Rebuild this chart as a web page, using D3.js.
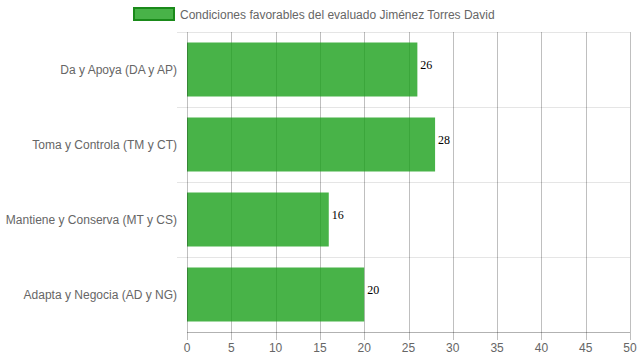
<!DOCTYPE html>
<html><head><meta charset="utf-8">
<script src="https://cdn.jsdelivr.net/npm/d3@7"></script>
<style>body{margin:0;background:#fff}svg{display:block}</style>
</head><body>
<svg id="c" width="639" height="360"></svg>
<script>
const categories = ["Da y Apoya (DA y AP)","Toma y Controla (TM y CT)","Mantiene y Conserva (MT y CS)","Adapta y Negocia (AD y NG)"];
const values = [26, 28, 16, 20];
const xTicks = [0,5,10,15,20,25,30,35,40,45,50];
const seriesName = "Condiciones favorables del evaluado Jiménez Torres David";

const svg = d3.select("#c");
const m = {l:187, r:630, t:32, b:332};
const x = d3.scaleLinear().domain([0,50]).range([m.l, m.r]);
const yb = d3.scaleBand().domain(categories).range([m.t, m.b]);
const font = "'Liberation Sans', Arial, sans-serif";

// horizontal grid lines (category boundaries)
const bounds = categories.map(c => yb(c)).concat([m.b]);
svg.append("g").selectAll("line").data(bounds.slice(0,-1)).join("line")
  .attr("x1", m.l-10).attr("x2", m.r).attr("y1", d=>d+0.5).attr("y2", d=>d+0.5)
  .attr("stroke", "rgba(0,0,0,0.1)").attr("stroke-width",1);

// vertical grid lines
svg.append("g").selectAll("line").data(xTicks.slice(1)).join("line")
  .attr("x1", d=>Math.round(x(d))+0.5).attr("x2", d=>Math.round(x(d))+0.5)
  .attr("y1", m.t).attr("y2", m.b+8)
  .attr("stroke", "rgba(0,0,0,0.25)").attr("stroke-width",1);

// bars
const bh = yb.bandwidth()*0.72;
svg.append("g").selectAll("rect").data(values).join("rect")
  .attr("x", x(0)).attr("width", d=>x(d)-x(0))
  .attr("y", (d,i)=>yb(categories[i]) + (yb.bandwidth()-bh)/2)
  .attr("height", bh)
  .attr("fill", "rgba(26,160,26,0.8)");

// y axis line
svg.append("line").attr("x1", m.l+0.5).attr("x2", m.l+0.5).attr("y1", m.t).attr("y2", m.b+8)
  .attr("stroke", "rgba(0,0,0,0.25)");
// x axis line
svg.append("line").attr("x1", m.l).attr("x2", m.r).attr("y1", m.b+0.5).attr("y2", m.b+0.5)
  .attr("stroke", "rgba(0,0,0,0.3)");

// x tick labels
svg.append("g").selectAll("text").data(xTicks).join("text")
  .attr("x", d=>x(d)).attr("y", 352).attr("text-anchor","middle")
  .attr("font-family", font).attr("font-size", 12).attr("fill","#666")
  .text(d=>d);

// category labels
svg.append("g").selectAll("text").data(categories).join("text")
  .attr("x", m.l-10).attr("y", d=>yb(d)+yb.bandwidth()/2+4).attr("text-anchor","end")
  .attr("font-family", font).attr("font-size", 12).attr("fill","#666")
  .text(d=>d);

// value labels
svg.append("g").selectAll("text").data(values).join("text")
  .attr("x", d=>x(d)+3).attr("y", (d,i)=>yb(categories[i])+yb.bandwidth()/2-1)
  .attr("font-family", "'Liberation Serif', 'Times New Roman', serif").attr("font-size", 12).attr("fill","#000")
  .text(d=>d);

// legend
svg.append("rect").attr("x",134).attr("y",8).attr("width",40).attr("height",12)
  .attr("fill","rgba(26,160,26,0.8)").attr("stroke","#1a8a1a").attr("stroke-width",2);
svg.append("text").attr("x",180).attr("y",18.5)
  .attr("font-family", font).attr("font-size", 12).attr("fill","#666").text(seriesName);
</script>
</body></html>
